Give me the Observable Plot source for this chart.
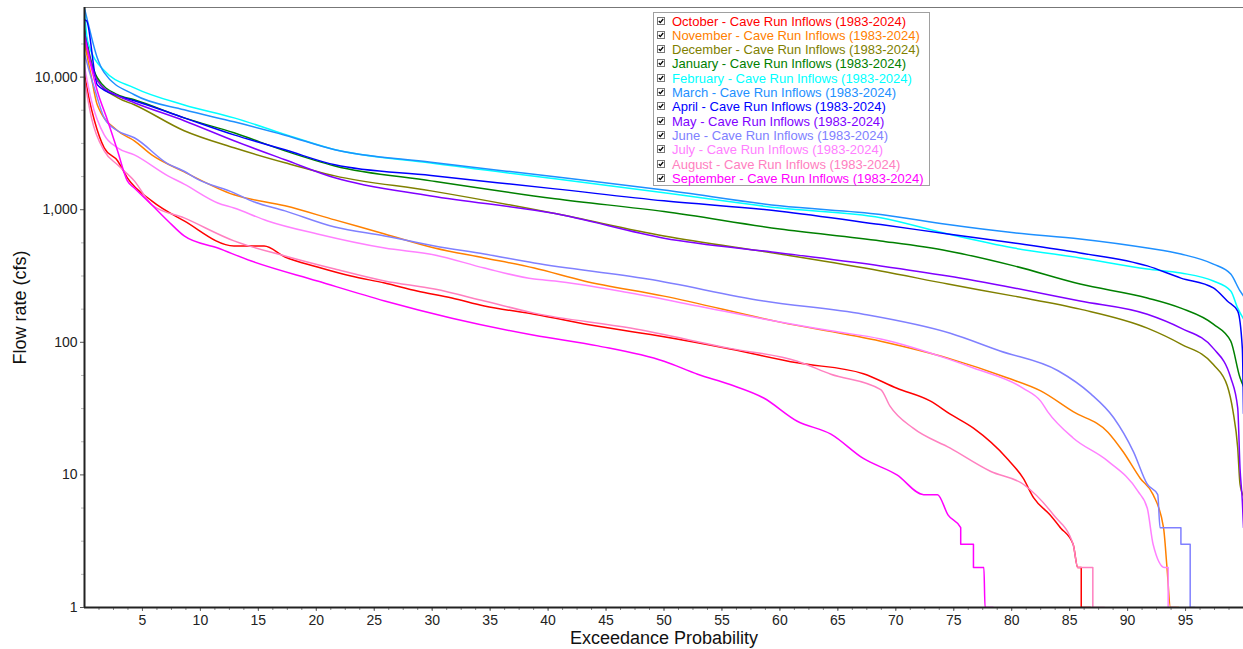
<!DOCTYPE html>
<html>
<head>
<meta charset="utf-8">
<script src="https://cdn.jsdelivr.net/npm/d3@7"></script>
<script src="https://cdn.jsdelivr.net/npm/@observablehq/plot@0.6"></script>
<style>
  html, body { margin: 0; padding: 0; background: #fff; }
  #wrap { position: relative; width: 1243px; height: 649px; font-family: "Liberation Sans", Arial, sans-serif; }
  #legend { position: absolute; left: 653px; top: 12px; width: 275px; height: 172px; border: 1px solid #a0a0a0; background: #fff; }
  .row { position: absolute; left: 0; height: 15px; line-height: 15px; font-size: 13px; white-space: nowrap; }
  .row svg { position: absolute; left: 3px; top: 3px; }
  .row span { position: absolute; left: 18px; }
</style>
</head>
<body>
<div id="wrap"><div id="chart"></div><div id="legend"></div></div>
<script>
// Series names (legend order)
const months = ["October","November","December","January","February","March","April","May","June","July","August","September"];
const suffix = " - Cave Run Inflows (1983-2024)";
// Tick values
const xTicks = [5,10,15,20,25,30,35,40,45,50,55,60,65,70,75,80,85,90,95];
const yTicks = [1,10,100,1000,10000];
const yMax = 33500;

// [exceedance probability %, flow cfs]
const octData = [[0,10500],[0.43,6640],[0.86,4690],[1.7,2930],[2.85,2340],[3.7,1740],[5.8,1166],[8.6,823],[12.9,533],[15.5,533],[17.3,440],[20.1,370],[23,316],[25.9,280],[28.7,244],[31.7,216],[34.5,188],[38.8,163],[44.3,132],[50,110],[55.7,89],[61.5,70],[67.2,58],[70.1,45],[73,36],[74.7,28.7],[76.7,22.5],[79.6,13.3],[81,9.4],[81.9,6.7],[83.3,5],[84.2,4],[85.3,3],[85.7,2],[86,2],[86,1],[86.8,1]];
const novData = [[0,18000],[0.5,11000],[1.1,6190],[2.85,3940],[4.3,3310],[5.8,2590],[8.6,1930],[12.9,1295],[17.3,1070],[21.6,838],[25.9,656],[30.2,514],[34.5,433],[38.8,363],[43.1,290],[50,223],[60,142],[68.7,102],[74.5,76],[79.6,54],[82.5,43],[85.3,30],[88.3,21],[89.6,15],[91.1,9.4],[92.2,7.1],[93.1,4],[93.4,2],[93.7,1],[94.4,1]];
const decData = [[0,20000],[0.5,13000],[1.1,9550],[2.85,6990],[4.3,6190],[8.6,3940],[12.9,2930],[17.3,2260],[21.6,1800],[29.9,1387],[40.6,935],[50,634],[60,463],[68.7,345],[74.5,275],[80.2,223],[85.9,178],[91.7,128],[94.6,97],[97.4,68],[98.6,47],[99.1,30],[99.5,16],[99.7,8.5],[100,6.9]];
const janData = [[0,24000],[0.5,14000],[1.1,9900],[2.85,7360],[4.3,6750],[8.6,4930],[12.9,3800],[17.3,2780],[21.6,2140],[29.9,1650],[40.6,1210],[50,968],[60,716],[68.7,582],[74.5,489],[80.2,377],[85.9,275],[91.7,216],[94.6,181],[97.4,137],[98.9,102],[99.7,54],[100,46.5]];
const febData = [[0,32000],[0.26,18800],[1.7,11200],[4.3,8300],[8.6,6170],[12.9,4930],[17.3,3700],[21.2,2900],[29.9,2250],[40.6,1710],[50,1340],[60,1030],[68.7,870],[74.5,656],[80.2,514],[85.9,433],[91.7,357],[94.6,333],[97.4,290],[98.9,244],[99.5,181],[100,150]];
const marData = [[0,33000],[0.2,28000],[1.1,14000],[1.7,10800],[4.3,7360],[8.6,5670],[12.9,4600],[17.3,3650],[21.6,2830],[29.9,2280],[40.6,1770],[50,1410],[60,1070],[68.7,920],[74.5,772],[80.2,669],[85.9,602],[91.7,514],[94.6,463],[97.4,389],[98.9,327],[99.7,244],[100,223]];
const aprData = [[0,27000],[0.17,26700],[1.1,8770],[2.85,7240],[4.3,6640],[8.6,4930],[12.9,3670],[17.3,2830],[21.6,2180],[29.9,1810],[40.6,1436],[50,1166],[60,975],[68.7,772],[74.5,656],[80.2,561],[85.9,472],[91.7,377],[94.6,305],[97.4,257],[98.6,205],[99.5,172],[99.9,90],[100,29]];
const mayData = [[0,22000],[0.5,13500],[1.1,9400],[2.85,7240],[4.3,6410],[8.6,4690],[12.9,3310],[17.3,2380],[21.6,1740],[29.9,1270],[40.6,935],[50,610],[60,472],[68.7,377],[74.5,316],[80.2,257],[85.9,205],[91.7,163],[94.6,128],[97.4,90],[98.9,54],[99.5,32],[99.7,11.2],[99.9,6.3],[100,4]];
const junData = [[0,15000],[0.3,12000],[0.9,8000],[1.7,4930],[2.85,3940],[4.3,3490],[7.2,2220],[8.6,1950],[9.7,1710],[12.9,1340],[14.4,1166],[17.3,980],[21.6,740],[25.9,634],[30.2,533],[34.5,463],[38.8,396],[48.6,300],[58.6,205],[67.2,163],[74.7,117],[79,86],[84,61],[86.8,41],[88.8,27],[90.5,15],[91.7,8.5],[92.6,7.1],[92.8,4],[94.6,4],[94.6,3],[95.4,3],[95.4,1],[95.8,1]];
const julData = [[0,12000],[0.6,6640],[1.7,3670],[2.85,2930],[4.3,2590],[7.2,1800],[8.6,1560],[11.5,1125],[12.9,1030],[15.8,823],[20.1,656],[25.9,514],[30.2,456],[34.5,363],[38.8,300],[40.6,290],[47.1,235],[52.9,188],[58.6,150],[64.4,122],[68.7,106],[74.5,75],[76.7,64],[81,45],[82.5,36],[83.1,30],[85.3,19],[88.3,12.7],[90.9,7.5],[91.7,5.6],[92.2,3],[93.2,2],[93.5,2],[93.5,1],[94.2,1]];
const augData = [[0,9500],[0.6,4930],[1.7,2780],[2.85,2180],[4.3,1650],[5.8,1090],[8.6,867],[12.9,582],[17.3,448],[21.6,357],[25.9,290],[30.2,252],[34.5,205],[38.8,166],[47.1,128],[55.7,90],[61.5,72],[64.4,57.5],[68.7,44],[69.5,33],[71.5,22.5],[74.7,15.9],[78.2,10.6],[81,8.5],[83.6,5],[85.3,3],[85.7,2],[87,2],[87,1],[88,1]];
const sepData = [[0,20000],[0.26,15800],[1.1,7890],[2,4690],[2.85,2780],[3.7,1650],[4.3,1460],[5.8,1090],[7.2,823],[8.6,634],[11.5,514],[14.4,410],[20.1,290],[25.9,205],[31.7,152],[38.8,113],[44.3,94],[50,72],[52.9,57.5],[55.7,48],[58.6,38],[61.5,25.4],[64.4,20.3],[67.2,13.3],[70.1,10],[72.4,7.1],[73.6,7.1],[74.5,5],[75.6,4],[75.6,3],[76.7,3],[76.7,2],[77.6,2],[77.7,1],[78.4,1]];

const seriesData = [octData,novData,decData,janData,febData,marData,aprData,mayData,junData,julData,augData,sepData];
const seriesColors = ["#ff0000","#ff8000","#808000","#008000","#00ffff","#1e90ff","#0000ff","#8000ff","#8080ff","#ff80ff","#ff80c0","#ff00ff"];

const rows = [];
months.forEach((m, i) => seriesData[i].forEach(([p, v]) => rows.push({month: m, p, v})));

const xMinor = d3.range(1.25, 100, 1.25);
const yMinor = [];
for (let k = 0; k < 18; k++) { if (k % 4 !== 0) yMinor.push(Math.pow(10, k / 4)); }

const chart = Plot.plot({
  width: 1243,
  height: 649,
  marginLeft: 84,
  marginRight: 0,
  marginTop: 7,
  marginBottom: 42,
  style: {fontFamily: "'Liberation Sans', Arial, sans-serif", background: "#fff", color: "#222"},
  x: {domain: [0, 100]},
  y: {type: "log", domain: [1, yMax]},
  color: {domain: months, range: seriesColors},
  marks: [
    Plot.axisX({ticks: xMinor, tickFormat: () => "", tickSize: 3, stroke: "#888", label: null}),
    Plot.axisX({ticks: xTicks, tickSize: 4, tickPadding: 4, fontSize: 14, label: null, stroke: "#666"}),
    Plot.axisY({ticks: yMinor, tickFormat: () => "", tickSize: 3, stroke: "#bbb", label: null}),
    Plot.axisY({ticks: yTicks, tickFormat: d3.format(","), tickSize: 4, tickPadding: 3, fontSize: 14, label: null, stroke: "#555"}),
    Plot.line(rows, {x: "p", y: "v", z: "month", stroke: "month", strokeWidth: 1.5, curve: "monotone-x", clip: true}),
    Plot.ruleY([yMax], {stroke: "#777", strokeWidth: 1.2}),
    Plot.ruleX([0], {stroke: "#222", strokeWidth: 2}),
    Plot.ruleY([1], {stroke: "#222", strokeWidth: 2}),
    Plot.text(["Flow rate (cfs)"], {frameAnchor: "left", textAnchor: "middle", lineAnchor: "middle", rotate: -90, dx: -64, fontSize: 18, fill: "#111"}),
    Plot.text(["Exceedance Probability"], {frameAnchor: "bottom", textAnchor: "middle", lineAnchor: "middle", dy: 31, fontSize: 18, fill: "#111"})
  ]
});
document.getElementById("chart").appendChild(chart);

// Legend
const legend = document.getElementById("legend");
months.forEach((m, i) => {
  const row = document.createElement("div");
  row.className = "row";
  row.style.top = (0.5 + i * 14.33) + "px";
  row.innerHTML = `<svg width="8" height="8"><rect x="0.5" y="0.5" width="7" height="7" fill="#fff" stroke="#777"/><path d="M1.8 4 L3.3 5.6 L6.2 2" fill="none" stroke="#000" stroke-width="1.3"/></svg>`;
  const span = document.createElement("span");
  span.textContent = m + suffix;
  span.style.color = seriesColors[i];
  row.appendChild(span);
  legend.appendChild(row);
});
</script>
</body>
</html>
